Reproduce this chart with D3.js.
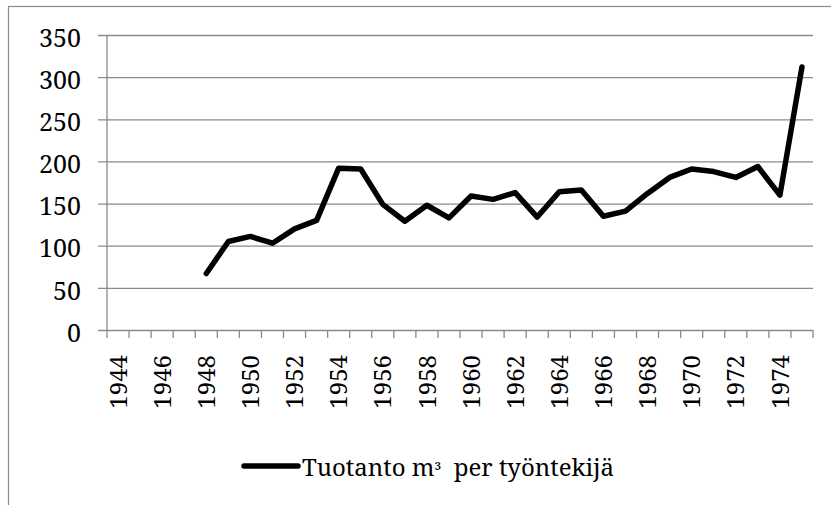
<!DOCTYPE html>
<html>
<head>
<meta charset="utf-8">
<style>
  body { margin: 0; background: #fff; }
</style>
<title>Tuotanto m3 per työntekijä</title>
</head>
<body>
<script src="https://cdn.jsdelivr.net/npm/d3@7"></script>
<script>
// categories (one per year) and production per worker
var years = [1944, 1945, 1946, 1947, 1948, 1949, 1950, 1951, 1952, 1953,
             1954, 1955, 1956, 1957, 1958, 1959, 1960, 1961, 1962, 1963,
             1964, 1965, 1966, 1967, 1968, 1969, 1970, 1971, 1972, 1973,
             1974, 1975];
var values = [null, null, null, null, 67, 105, 111, 103, 120, 130,
              192, 191, 149, 129, 148, 133, 159, 155, 163, 134,
              164, 166, 135, 141, 162, 181, 191, 188, 181, 194,
              160, 312];
var yTicks = [0, 50, 100, 150, 200, 250, 300, 350];
var labelYears = [1944, 1946, 1948, 1950, 1952, 1954, 1956, 1958, 1960,
                  1962, 1964, 1966, 1968, 1970, 1972, 1974];
var seriesName = ["Tuotanto m", "\u00b3", "  per työntekijä"];

var width = 831, height = 505;
var plot = {left: 107, right: 813, top: 35, bottom: 330};
var gridColor = "#8a8a8a";
var serif = "'Noto Serif', 'Liberation Serif', serif";

var svg = d3.select("body").append("svg")
    .attr("width", width)
    .attr("height", height);

// chart frame (runs off the right and bottom edge like the original)
svg.append("rect")
    .attr("x", 8.5).attr("y", 6.5)
    .attr("width", 900).attr("height", 600)
    .attr("fill", "none")
    .attr("stroke", gridColor)
    .attr("stroke-width", 1.2);

var x = d3.scaleBand()
    .domain(years)
    .range([plot.left, plot.right])
    .padding(0);

var y = d3.scaleLinear()
    .domain([0, 350])
    .range([plot.bottom, plot.top]);

// horizontal gridlines + y axis
var yAxis = d3.axisLeft(y)
    .tickValues(yTicks)
    .tickSize(plot.right - plot.left + 9)
    .tickPadding(17);

var gy = svg.append("g")
    .attr("transform", "translate(" + plot.right + ",0)")
    .call(yAxis);
gy.select(".domain").remove();
gy.selectAll(".tick line")
    .attr("stroke", gridColor)
    .attr("stroke-width", 1.3);
gy.selectAll(".tick text")
    .attr("dy", "0.45em")
    .attr("fill", "#000")
    .style("font-family", serif)
    .style("font-size", "25px");

svg.append("line")
    .attr("x1", plot.left).attr("x2", plot.left)
    .attr("y1", y(350)).attr("y2", y(0))
    .attr("stroke", gridColor)
    .attr("stroke-width", 1.3);

// x axis: tick marks on category boundaries
var bounds = years.map(function(d) { return x(d); }).concat([x.range()[1]]);
svg.append("g").selectAll("line")
    .data(bounds)
  .enter().append("line")
    .attr("x1", function(d) { return d; })
    .attr("x2", function(d) { return d; })
    .attr("y1", y(0))
    .attr("y2", y(0) + 8)
    .attr("stroke", gridColor)
    .attr("stroke-width", 1.3);

var xAxis = d3.axisBottom(x)
    .tickValues(labelYears)
    .tickSize(0);

var gx = svg.append("g")
    .attr("transform", "translate(0," + y(0) + ")")
    .call(xAxis);
gx.select(".domain").remove();
gx.selectAll(".tick text")
    .attr("x", 0).attr("y", 0)
    .attr("dy", "0.36em")
    .attr("text-anchor", "end")
    .attr("fill", "#000")
    .attr("transform", "translate(0,25) rotate(-90)")
    .style("font-family", serif)
    .style("font-size", "24px");

// series line
var points = years.map(function(d, i) { return {year: d, value: values[i]}; })
    .filter(function(d) { return d.value != null; });

var line = d3.line()
    .x(function(d) { return x(d.year) + x.bandwidth() / 2; })
    .y(function(d) { return y(d.value); });

svg.append("path")
    .datum(points)
    .attr("d", line)
    .attr("fill", "none")
    .attr("stroke", "#000")
    .attr("stroke-width", 5.5)
    .attr("stroke-linejoin", "round")
    .attr("stroke-linecap", "round");

// legend
var legend = svg.append("g")
    .attr("transform", "translate(244,466)");

legend.append("line")
    .attr("x1", 0).attr("x2", 54)
    .attr("y1", 0).attr("y2", 0)
    .attr("stroke", "#000")
    .attr("stroke-width", 5.5)
    .attr("stroke-linecap", "round");

var lt = legend.append("text")
    .attr("x", 58)
    .attr("y", 10)
    .attr("xml:space", "preserve")
    .style("white-space", "pre")
    .style("font-family", serif)
    .style("font-size", "24px");
lt.append("tspan").text(seriesName[0]);
lt.append("tspan").style("font-size", "17px").text(seriesName[1]);
lt.append("tspan").text(seriesName[2]);
</script>
</body>
</html>
